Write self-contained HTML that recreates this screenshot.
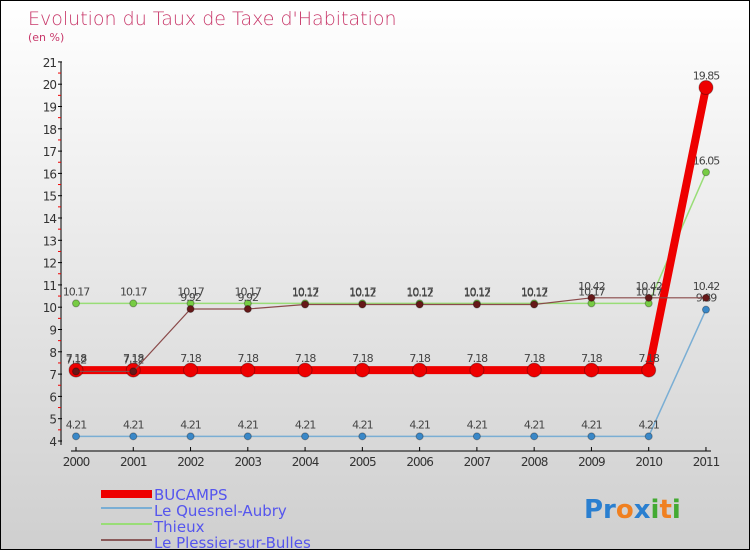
<!DOCTYPE html>
<html><head><meta charset="utf-8"><style>
body{margin:0}
#c{width:750px;height:550px;position:relative;box-sizing:border-box;border:1px solid #000;background:linear-gradient(#fff,#cfcfcf);font-family:"DejaVu Sans","Liberation Sans",sans-serif;overflow:hidden}
</style></head><body>
<div id="c">
<svg width="750" height="550" style="position:absolute;left:0;top:0" id="svg">
<text x="27" y="24" font-size="19" fill="#c8386a" style="font-weight:200">Evolution du Taux de Taxe d'Habitation</text>
<text x="27" y="40" font-size="11" fill="#c8386a">(en %)</text>
<g id="axes"></g><g id="series"></g>
<g font-size="15" fill="#5555ee">
<rect x="100" y="489" width="51" height="8" fill="#ee0000"/>
<text x="153" y="499">BUCAMPS</text>
<rect x="100" y="506" width="51" height="2" fill="#7aaed4"/>
<text x="153" y="515">Le Quesnel-Aubry</text>
<rect x="100" y="522" width="51" height="2" fill="#99dd77"/>
<text x="153" y="531">Thieux</text>
<rect x="100" y="538" width="51" height="2" fill="#8a5a5a"/>
<text x="153" y="547">Le Plessier-sur-Bulles</text>
</g>
<text x="583" y="517" font-size="26" font-weight="bold"><tspan fill="#2a7fd0">Pr</tspan><tspan fill="#f08020">o</tspan><tspan fill="#2a7fd0">x</tspan><tspan fill="#44aa33">i</tspan><tspan fill="#f08020">t</tspan><tspan fill="#44aa33">i</tspan></text>
</svg>
</div>
<script>
const years=[2000,2001,2002,2003,2004,2005,2006,2007,2008,2009,2010,2011];
const bucamps=[7.18,7.18,7.18,7.18,7.18,7.18,7.18,7.18,7.18,7.18,7.18,19.85];
const quesnel=[4.21,4.21,4.21,4.21,4.21,4.21,4.21,4.21,4.21,4.21,4.21,9.89];
const thieux=[10.17,10.17,10.17,10.17,10.17,10.17,10.17,10.17,10.17,10.17,10.17,16.05];
const plessier=[7.12,7.12,9.92,9.92,10.12,10.12,10.12,10.12,10.12,10.42,10.42,10.42];
const yTicks=[4,5,6,7,8,9,10,11,12,13,14,15,16,17,18,19,20,21];
const NS="http://www.w3.org/2000/svg";
const X=i=>75+i*57.27, Y=v=>440-(v-4)*22.3;
function mk(t,a,p){const e=document.createElementNS(NS,t);for(const k in a)e.setAttribute(k,a[k]);p.appendChild(e);return e;}
const ax=document.getElementById('axes'),se=document.getElementById('series');
let l=mk('line',{x1:60,y1:Y(21),x2:60,y2:444,stroke:'#000'},ax);


yTicks.forEach(v=>{mk('line',{x1:57,x2:61,y1:Y(v),y2:Y(v),stroke:'#000'},ax);
 if(v<21)mk('line',{x1:57,x2:60,y1:Y(v+0.5),y2:Y(v+0.5),stroke:'#e00'},ax);
 const t=mk('text',{x:55,y:Y(v)+5,'font-size':12,'text-anchor':'end',fill:'#333','letter-spacing':'-1'},ax);t.textContent=v;
 
 });
l=mk('line',{x1:70,y1:450,x2:710,y2:450,stroke:'#000'},ax);


years.forEach((y,i)=>{mk('line',{x1:X(i),x2:X(i),y1:446,y2:450,stroke:'#000'},ax);
 const t=mk('text',{x:X(i),y:465,'font-size':12,'text-anchor':'middle',fill:'#333','letter-spacing':'-1'},ax);t.textContent=y;
 
 });
function draw(arr,col,w,r,dot,name,lab){
 const g=mk('g',{},se);
 
 
 mk('polyline',{points:arr.map((v,i)=>X(i)+','+Y(v)).join(' '),fill:'none',stroke:col,'stroke-width':w},g);
 arr.forEach((v,i)=>{const c=mk('circle',{cx:X(i),cy:Y(v),r:r,fill:dot,stroke:'rgba(0,0,0,0.3)'},g);
  
  
  const t=mk('text',{x:X(i),y:Y(v)-8,'font-size':11,'text-anchor':'middle',fill:'#444','letter-spacing':'-1'},g);t.textContent=v;
  
  });
}
draw(quesnel,'#7aaed4',1.5,3.5,'#3a88c8','quesnel');
draw(thieux,'#99dd77',1.5,3.5,'#77cc44','thieux');
draw(bucamps,'#ee0000',8,7,'#ee0000','bucamps');
draw(plessier,'#8a4a4a',1.2,3.5,'#661818','plessier');
</script>
</body></html>
